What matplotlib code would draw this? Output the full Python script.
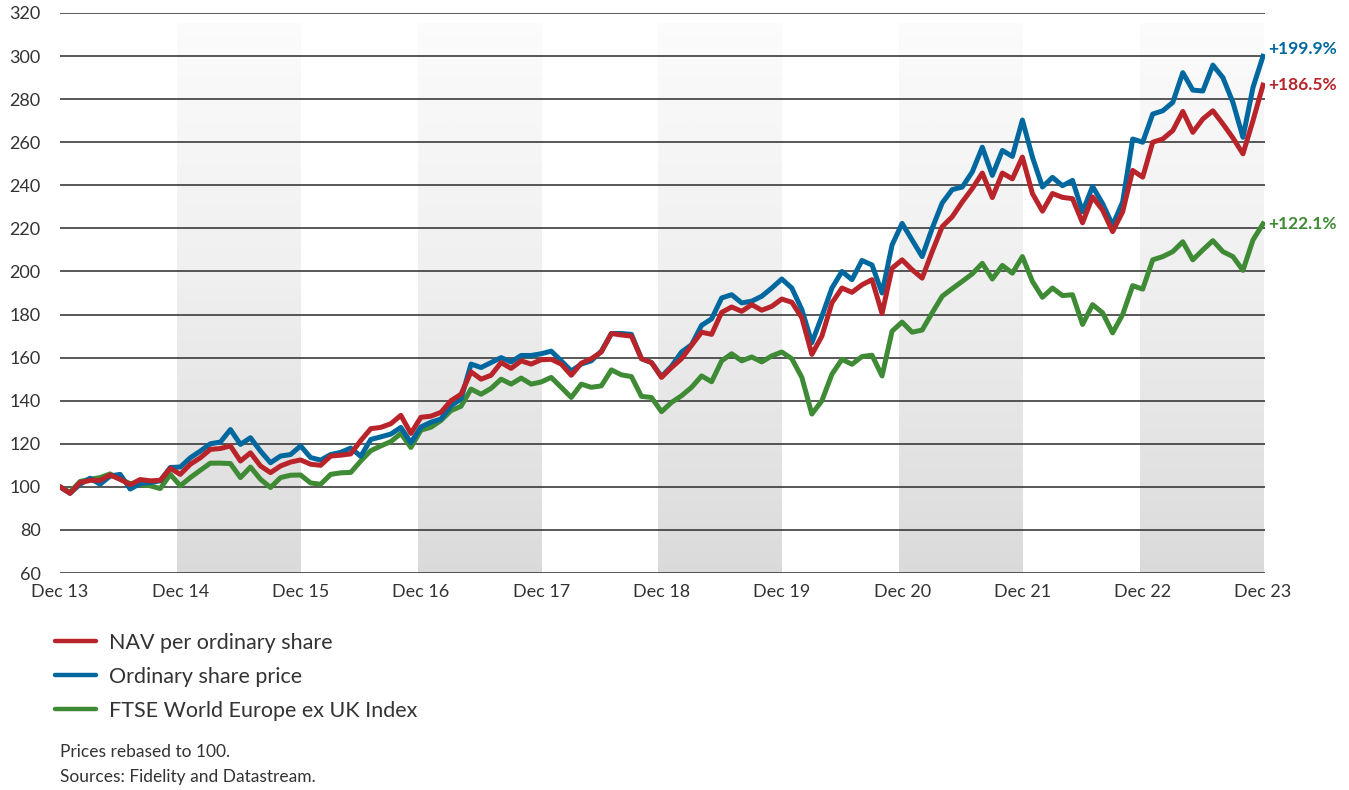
import matplotlib.pyplot as plt
import numpy as np

# monthly values, Dec 13 .. Dec 23 (rebased to 100)
nav = [100, 97, 102, 103, 103, 105.5, 103.5, 101, 103.4, 102.8, 103, 108.6, 105.8, 110.5, 113.5, 117.4,
       117.8, 119, 112, 115.8, 109.7, 106.6, 109.7, 111.5, 112.5,
       110.5, 110, 114.3, 114.7, 115.3, 121.5, 127, 127.6, 129.3, 133.2, 124.8, 132.3, 132.8, 134.6, 140,
       143, 153.4, 150, 151.8, 157.7, 155, 158.5, 157, 159,
       159.2, 157, 151.8, 157.4, 159.5, 162.6, 171.2, 170.5, 170, 159.5, 157.7, 150.8, 155.4, 159.5, 165.7,
       171.8, 170.8, 181, 183.5, 181.5, 184.6, 182, 183.8, 187.2, 185.7,
       178.5, 161.5, 170, 185.4, 192.3, 190.3, 193.8, 196.2, 180.5, 201.5, 205.4, 200.8, 196.9, 209.2,
       220.8, 225.4, 232.3, 238.5, 245.7, 234.3, 245.7, 243, 253.1, 236.2,
       228, 236.2, 234.4, 233.8, 222.6, 234.6, 228.5, 218.5, 227.7, 246.9, 243.8, 260, 261.5, 265.4,
       274.3, 264.6, 270.8, 274.6, 268.5, 262, 254.6, 270, 286.5]

share_price = [100, 97, 101.2, 104, 101.2, 105, 105.8, 99, 101.5, 102, 102.8, 109, 109.2, 113.5, 116.6, 120,
               120.8, 126.6, 119.7, 122.8, 116.6, 111.2, 114.3, 115, 119,
               113.6, 112.4, 115, 116, 118, 114.2, 122, 123.2, 124.5, 127.6, 120.5, 127.8, 130, 131.5, 137.7,
               140.8, 157, 155.4, 157.7, 160, 158, 161, 161, 161.8,
               163, 158.5, 153.8, 157, 158.5, 163, 171.2, 171.2, 170.8, 159.5, 157.7, 151.2, 156, 162.6, 166,
               175, 178, 187.7, 189.2, 185.4, 186.2, 188.5, 192.3, 196.5, 192.3,
               182.3, 166.9, 179.2, 192.3, 200, 196.2, 205.1, 203, 190, 212.3, 222.3, 214.6, 206.9, 220,
               231.8, 238, 239.2, 246.2, 257.7, 244.6, 256.2, 253.4, 270.3, 253.1,
               239.2, 243.7, 239.8, 242.3, 227.7, 239.5, 231.5, 221.5, 232.3, 261.5, 260, 273.1, 274.6, 278.5,
               292.3, 284.2, 283.8, 295.8, 290, 278.5, 262.3, 285.4, 299.9]

index = [100, 97.5, 102.5, 103.5, 104.3, 106, 103.5, 101.5, 101, 100.5, 99.2, 105.8, 100.5, 104.3, 107.7, 111,
         111, 110.8, 104.3, 109.2, 103.5, 99.7, 104.3, 105.4, 105.5,
         101.8, 101.2, 105.8, 106.5, 106.7, 112, 116.8, 119, 121, 124.8, 118.3, 126.3, 127.7, 130.8, 135.4,
         137.4, 145.4, 143, 145.7, 150, 147.7, 150.5, 147.7, 148.7,
         150.8, 146.2, 141.5, 147.7, 146.2, 146.9, 154.3, 152, 151.2, 142, 141.5, 134.9, 139.2, 142.3, 146.2,
         151.5, 148.8, 158.5, 161.8, 158.5, 160.3, 158, 160.8, 162.6, 159.5,
         150.8, 133.8, 140, 152.3, 159.2, 156.9, 160.5, 161.1, 151.5, 172.3, 176.5, 171.8, 172.8, 180.8,
         188.5, 192, 195.4, 198.9, 203.8, 196.5, 202.8, 199.2, 206.9, 195.4,
         188, 192.3, 188.8, 189.2, 175.4, 184.6, 180.8, 171.5, 180, 193.4, 191.8, 205.4, 206.9, 209.2,
         213.8, 205.4, 210, 214.3, 209.2, 206.9, 200.5, 214.6, 222.1]

year_labels = ["Dec 13", "Dec 14", "Dec 15", "Dec 16", "Dec 17", "Dec 18",
               "Dec 19", "Dec 20", "Dec 21", "Dec 22", "Dec 23"]
final_labels = ["+186.5%", "+199.9%", "+122.1%"]
series_names = ["NAV per ordinary share", "Ordinary share price", "FTSE World Europe ex UK Index"]

RED = "#b8242a"
BLUE = "#00689e"
GREEN = "#3f8a35"
TXT = "#333333"

plt.rcParams['font.family'] = ['Lato', 'DejaVu Sans']

months = np.arange(len(nav))
ticks = np.arange(0, 121, 12)

fig = plt.figure(figsize=(13.49, 7.9), dpi=100)
ax = fig.add_axes([60 / 1349, 1 - 573 / 790, 1205 / 1349, 560 / 790])
ax.set_xlim(0, 120.2)
ax.set_ylim(60, 320)

# shaded gradient bands every other year
grad = np.linspace(0, 1, 256).reshape(-1, 1)
for start in ticks[1::2]:
    ax.imshow(grad, extent=[start - 0.3, start + 12, 60, 315], aspect='auto', cmap='Greys',
              vmin=-0.15, vmax=4.6, origin='upper', zorder=0, interpolation='bilinear')

for yv in np.arange(60, 321, 20):
    ax.axhline(yv, color="#2b2b2b", lw=1.1, zorder=1)

lw = 3.6
ax.plot(months, index, color=GREEN, lw=lw, zorder=3)
ax.plot(months, share_price, color=BLUE, lw=lw, zorder=4)
ax.plot(months, nav, color=RED, lw=lw, zorder=5)

# end labels
ax.annotate(final_labels[1], (months[-1], share_price[-1]), xytext=(4, 5), textcoords='offset points',
            color=BLUE, fontsize=12.5, fontweight='bold', va='center', ha='left', annotation_clip=False)
ax.annotate(final_labels[0], (months[-1], nav[-1]), xytext=(4, 0), textcoords='offset points',
            color=RED, fontsize=12.5, fontweight='bold', va='center', ha='left', annotation_clip=False)
ax.annotate(final_labels[2], (months[-1], index[-1]), xytext=(4, 0), textcoords='offset points',
            color=GREEN, fontsize=12.5, fontweight='bold', va='center', ha='left', annotation_clip=False)

ax.set_yticks(np.arange(60, 321, 20))
ax.set_xticks(ticks)
ax.set_xticklabels(year_labels)
ax.tick_params(axis='both', length=0, labelsize=13, colors=TXT)
ax.tick_params(axis='y', pad=14)
ax.tick_params(axis='x', pad=8)
for s in ax.spines.values():
    s.set_visible(False)

# legend
handles = [plt.Line2D([], [], color=c, lw=3.2, solid_capstyle='round') for c in (RED, BLUE, GREEN)]
fig.legend(handles, series_names, loc='upper left', bbox_to_anchor=(55 / 1349, 1 - 633 / 790),
           frameon=False, fontsize=15.5, handlelength=1.9, handletextpad=0.6, labelspacing=0.64,
           borderpad=0, borderaxespad=0, labelcolor=TXT)

fig.text(60 / 1349, 1 - 752 / 790, "Prices rebased to 100.", fontsize=12.5, color=TXT, va='center')
fig.text(60 / 1349, 1 - 777 / 790, "Sources: Fidelity and Datastream.", fontsize=12.5, color=TXT, va='center')

fig.savefig("out.png", dpi=100)
